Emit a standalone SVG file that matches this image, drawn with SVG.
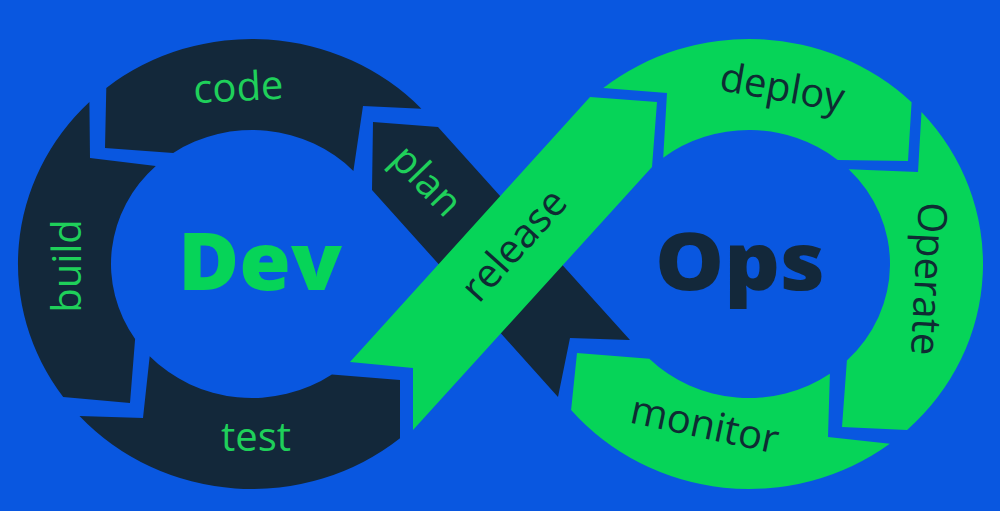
<svg xmlns="http://www.w3.org/2000/svg" width="1000" height="511" viewBox="0 0 1000 511">
  <style>
    .dark { fill: #13283a; }
    .green { fill: #06d458; }
    .lbl { font-family: "Open Sans", "Liberation Sans", sans-serif; font-size: 40px; font-weight: 500; text-anchor: middle; }
    .on-dark { fill: #1fd05a; }
    .on-green { fill: #0f2b33; }
    .big { font-family: "Open Sans", "Liberation Sans", sans-serif; font-size: 80px; font-weight: 800; }
  </style>
  <rect x="0" y="0" width="1000" height="511" fill="#0957e0"/>

  <g id="code">
    <path class="dark" d="M106.3,87.9 A234,225 0 0 1 421.4,108.7 L363,106 L353.4,170.9 A141,134 0 0 0 173.2,152.9 L105,148 Z"/>
    <text class="lbl on-dark" x="239" y="101" transform="rotate(-3 239 101)">code</text>
  </g>

  <g id="build">
    <path class="dark" d="M89.4,102.1 A234,225 0 0 0 63.2,396.9 L130,403 L135.1,338.9 A141,134 0 0 1 155.8,166 L90,158 Z"/>
    <text class="lbl on-dark" x="81" y="266" transform="rotate(-90 81 266)">build</text>
  </g>

  <g id="test">
    <path class="dark" d="M79.5,416 A234,225 0 0 0 400,438.3 L400,380 L331.9,374.4 A141,134 0 0 1 149.7,356.2 L143,418 Z"/>
    <text class="lbl on-dark" x="256" y="451">test</text>
  </g>

  <g id="plan">
    <polygon class="dark" points="373,122 438,127 630,340 570,338 558,397 372,190"/>
    <text class="lbl on-dark" x="417" y="190" transform="rotate(46 417 190)">plan</text>
  </g>

  <g id="release">
    <polygon class="green" points="350,362 590,97 657,102 652,167 413,430 413,368"/>
    <text class="lbl on-green" x="524" y="254" transform="rotate(-48 524 254)">release</text>
  </g>

  <g id="deploy">
    <path class="green" d="M603.3,87.9 A234,225 0 0 1 911.6,102.2 L908,161 L837.7,159.9 A141,134 0 0 0 663.2,157.7 L667,93 Z"/>
    <text class="lbl on-green" x="780" y="101" transform="rotate(10 780 101)">deploy</text>
  </g>

  <g id="operate">
    <path class="green" d="M921.5,112 A234,225 0 0 1 907.1,429.9 L842,427 L846.9,360.4 A141,134 0 0 0 848.7,169.2 L918,172 Z"/>
    <text class="lbl on-green" x="915" y="278" transform="rotate(93 915 278)">Operate</text>
  </g>

  <g id="monitor">
    <path class="green" d="M889.8,443.7 A234,225 0 0 1 571.1,410.1 L577,353 L649.3,358.8 A141,134 0 0 0 829.9,373.8 L828,437 Z"/>
    <text class="lbl on-green" x="702" y="438" transform="rotate(12 702 438)">monitor</text>
  </g>

  <g id="dev">
    <text class="big" x="178" y="290" fill="#06d458" textLength="164" lengthAdjust="spacingAndGlyphs">Dev</text>
  </g>

  <g id="ops">
    <text class="big" x="655" y="290" fill="#13283a" font-size="82" textLength="170" lengthAdjust="spacingAndGlyphs">Ops</text>
  </g>

  <g id="connectors"/>
</svg>
